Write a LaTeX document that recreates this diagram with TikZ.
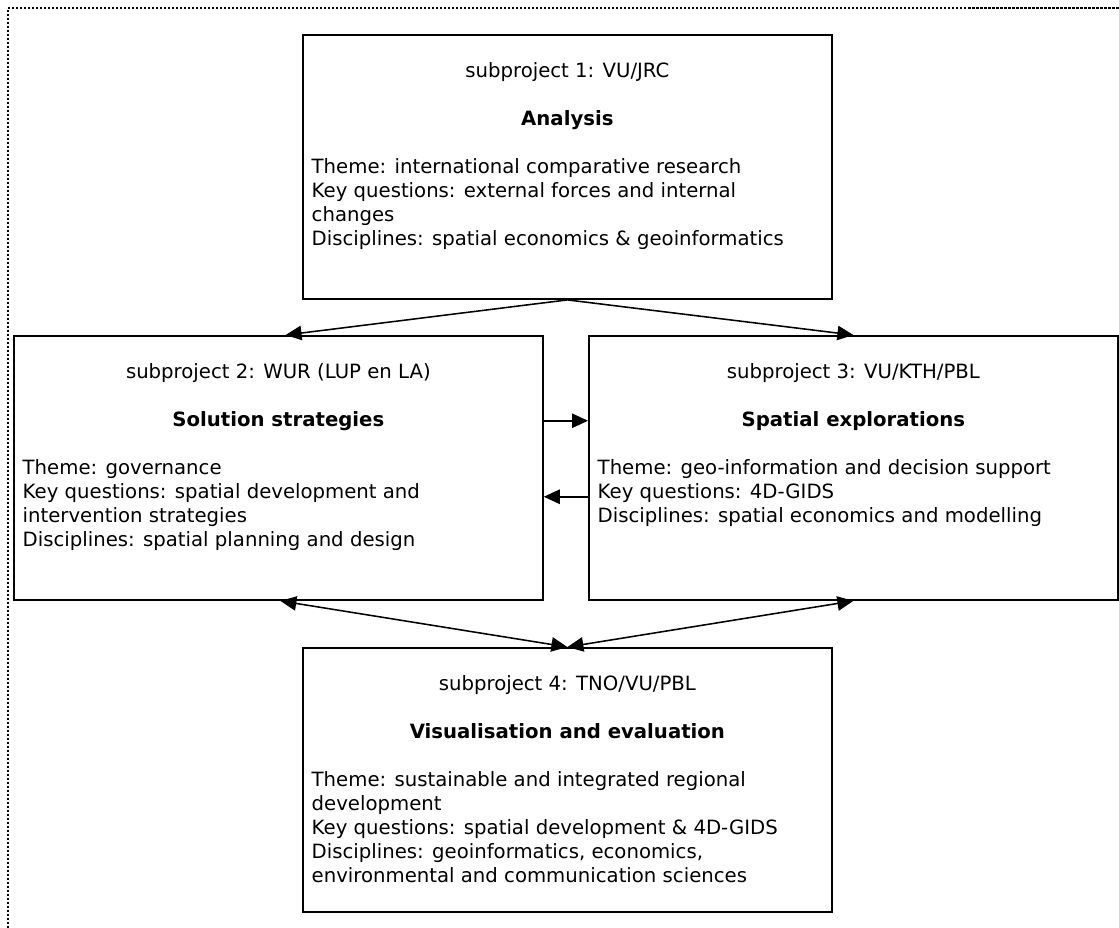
\documentclass[tikz,border=0pt]{standalone}
\usepackage{fontspec}
\setmainfont{DejaVu Sans}
\usetikzlibrary{arrows.meta,positioning}

%% box text: heading line, bold title, body lines
\newcommand{\subproj}[3]{%
  \parbox[t][6.6cm][t]{12.78cm}{\fontsize{14pt}{17.07pt}\selectfont
    {\centering\rule{0pt}{1.07cm}#1\\[0.6cm]
     \textbf{#2}\par}
    \vspace{0.6cm}
    \raggedright #3}}

\begin{document}
\begin{tikzpicture}[x=0.025cm, y=-0.025cm,
  proj/.style={draw, line width=1.3pt, inner xsep=0.22cm, inner ysep=0pt, anchor=north west},
  link/.style={line width=1.1pt, -{Triangle[length=0.4cm, width=0.36cm]}},
  both/.style={line width=1.1pt, {Triangle[length=0.4cm, width=0.36cm]}-{Triangle[length=0.4cm, width=0.36cm]}},
  frame/.style={line width=0.065cm, dash pattern=on 0.055cm off 0.045cm}]
\useasboundingbox (0,0) rectangle (1119,928);

%% dotted border, top and left only
\draw[frame] (8,928) -- (8,8) -- (1119,8);

\node[proj] (sp1) at (302,34) {\subproj{subproject 1: VU/JRC}{Analysis}{%
  Theme: international comparative research\\
  Key questions: external forces and internal\\
  changes\\
  Disciplines: spatial economics \& geoinformatics}};

\node[proj] (sp2) at (13,335) {\subproj{subproject 2: WUR (LUP en LA)}{Solution strategies}{%
  Theme: governance\\
  Key questions: spatial development and\\
  intervention strategies\\
  Disciplines: spatial planning and design}};

\node[proj] (sp3) at (588,335) {\subproj{subproject 3: VU/KTH/PBL}{Spatial explorations}{%
  Theme: geo-information and decision support\\
  Key questions: 4D-GIDS\\
  Disciplines: spatial economics and modelling}};

\node[proj] (sp4) at (302,647) {\subproj{subproject 4: TNO/VU/PBL}{Visualisation and evaluation}{%
  Theme: sustainable and integrated regional\\
  development\\
  Key questions: spatial development \& 4D-GIDS\\
  Disciplines: geoinformatics, economics,\\
  environmental and communication sciences}};

%% arrows
\draw[link] (sp1.south) -- ([xshift=0.18cm]sp2.north);
\draw[link] (sp1.south) -- (sp3.north);
\draw[link] ([yshift=1.18cm]sp2.east) -- ([yshift=1.18cm]sp3.west);
\draw[link] ([yshift=-0.72cm]sp3.west) -- ([yshift=-0.72cm]sp2.east);
\draw[both] ([xshift=0.05cm]sp2.south) -- (sp4.north);
\draw[both] (sp4.north) -- (sp3.south);
\end{tikzpicture}
\end{document}
